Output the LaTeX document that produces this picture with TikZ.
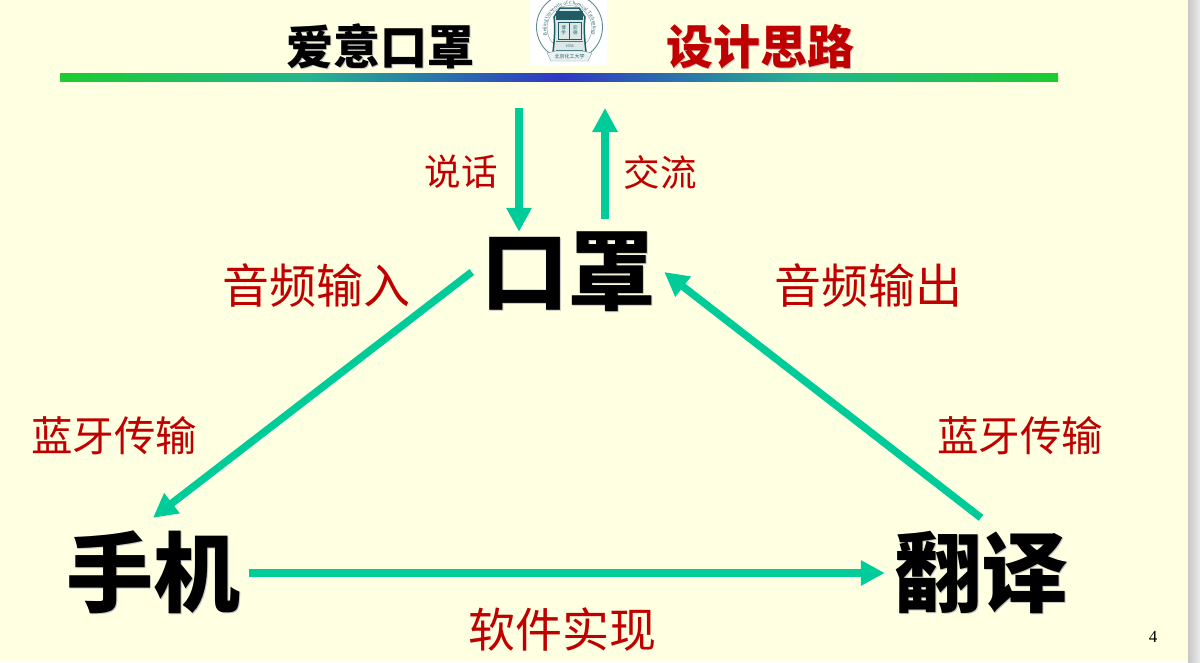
\documentclass[tikz,border=0pt]{standalone}
\usepackage{fontspec}
\usetikzlibrary{arrows.meta,decorations.text}
\setmainfont{Noto Sans CJK SC}
\newfontfamily\numfont{Liberation Serif}
\definecolor{pagebg}{HTML}{FFFFE1}
\definecolor{flowgreen}{HTML}{00CC99}
\definecolor{labelred}{HTML}{C00000}
\definecolor{barend}{HTML}{1CCC30}
\definecolor{barquarter}{HTML}{24B490}
\definecolor{barmid}{HTML}{3038C4}
\definecolor{sealteal}{HTML}{1F5C66}
\definecolor{sealpale}{HTML}{DCE8E6}
\pgfdeclarehorizontalshading{titlebar}{100bp}{color(0bp)=(barend); color(25bp)=(barend); color(37.5bp)=(barquarter); color(50bp)=(barmid); color(62.5bp)=(barquarter); color(75bp)=(barend); color(100bp)=(barend)}
\newcommand{\shadowed}[2]{\leavevmode\rlap{\raisebox{-1.5pt}{\hspace{1.5pt}\textcolor{#1}{#2}}}#2}
\begin{document}
\begin{tikzpicture}[x=1pt,y=-1pt,
    vertex/.style ={font=\fontsize{87}{87}\selectfont\bfseries, inner sep=0pt, minimum width=192pt, minimum height=110pt},
    flow/.style ={draw=flowgreen, line width=7.5pt, -{Triangle[length=24pt,width=24pt]}},
    saying/.style ={text=labelred, font=\fontsize{47}{47}\selectfont, inner sep=0pt},
    sealword/.style ={text=sealteal, font=\fontsize{5}{5}\selectfont, inner sep=0pt},
    heading/.style ={font=\fontsize{47}{47}\selectfont\bfseries, inner sep=0pt}]
   \useasboundingbox (0,0) rectangle (1200,662);
   \fill[pagebg] (0,0) rectangle (1200,662);
   \shade[left color=black!22, right color=black!8] (1188,0) rectangle (1200,662);
   % title bar
   \shade[shading=titlebar] (60,73) rectangle (1058,81);
   \node[heading] (titleleft) at (380,47) {\shadowed{black!22}{爱意口罩}};
   \node[heading, text=labelred] (titleright) at (760,47) {\shadowed{black!22}{设计思路}};
   % seal
   \fill[white] (530,0) rectangle (607,65);
   \begin{scope}
     \clip (530,0) rectangle (607,65);
     \draw[sealteal!70, line width=0.9pt] (569.5,27) circle (33);
     \draw[sealteal!60, line width=0.4pt] (569.5,28) circle (22.5);
     \path[decorate, decoration={text along path, text align=center, text={|\fontsize{5}{5}\selectfont\numfont\color{sealteal}|Beijing University of Chemical Technology}}] (569.5,28) ++(140:23.5) arc[start angle=140, end angle=400, radius=23.5];
     \filldraw[fill=sealpale, draw=sealteal, line width=1.5pt] (553,52) .. controls (555,35) and (555,25) .. (554,17) -- (560,8) -- (579,8) -- (585,17) .. controls (584,25) and (584,35) .. (586,52) -- cycle;
     \fill[sealteal] (556,11) rectangle (583,20);
     \draw[sealteal, line width=0.8pt] (558,22) rectangle (581,39);
     \draw[sealteal, line width=0.8pt] (569.5,22) -- (569.5,39);
     \draw[sealteal!80, line width=0.6pt] (556,41.5) -- (583,41.5);
     \draw[sealteal!80, line width=0.6pt] (556,50) -- (583,50);
     \fill[sealpale!60!white, draw=sealteal!60, line width=0.4pt] (547,53) -- (556,51) -- (582,51) -- (592,53) -- (588,61) -- (551,61) -- cycle;
     \node[sealword] (sealzh) at (569.5,56.5) {北京化工大学};
     \node[sealword, font=\fontsize{4.5}{4.5}\selectfont, align=center] (sealleft) at (563.7,30.5) {博\\学};
     \node[sealword, font=\fontsize{4.5}{4.5}\selectfont, align=center] (sealright) at (575.3,30.5) {宏\\德};
     \node[sealword, font=\fontsize{4}{4}\selectfont\numfont] (sealyear) at (569.5,46) {1958};
   \end{scope}
   % main triangle
   \node[vertex] (kouzhao) at (568,272) {\shadowed{black!22}{口罩}};
   \node[vertex] (shouji) at (153,573) {\shadowed{black!22}{手机}};
   \node[vertex] (fanyi) at (981,573) {\shadowed{black!22}{翻译}};
   \coordinate (speakin) at (519,108);
   \coordinate (talkout) at (605,108);
   \draw[flow, shorten >=-15pt] (speakin) to (kouzhao.north -| speakin);
   \draw[flow, shorten <=-2pt] (kouzhao.north -| talkout) to (talkout);
   \draw[flow] (kouzhao.west) to (shouji.north);
   \draw[flow] (fanyi.north) to (kouzhao.east);
   \draw[flow] (shouji.east) to (fanyi.west);
   % labels
   \node[saying, font=\fontsize{36.5}{37}\selectfont] (shuohua) at (461,172) {说话};
   \node[saying, font=\fontsize{36.5}{37}\selectfont] (jiaoliu) at (660,172) {交流};
   \node[saying] (yinpinin) at (316,286) {音频输入};
   \node[saying] (yinpinout) at (868,286) {音频输出};
   \node[saying, font=\fontsize{41.5}{42}\selectfont] (lanyaleft) at (114,436) {蓝牙传输};
   \node[saying, font=\fontsize{41.5}{42}\selectfont] (lanyaright) at (1020,436) {蓝牙传输};
   \node[saying] (ruanjian) at (562,630) {软件实现};
   \node[inner sep=0pt, font=\fontsize{17}{17}\selectfont\numfont] (pageno) at (1153,637) {4};
\end{tikzpicture}
\end{document}
